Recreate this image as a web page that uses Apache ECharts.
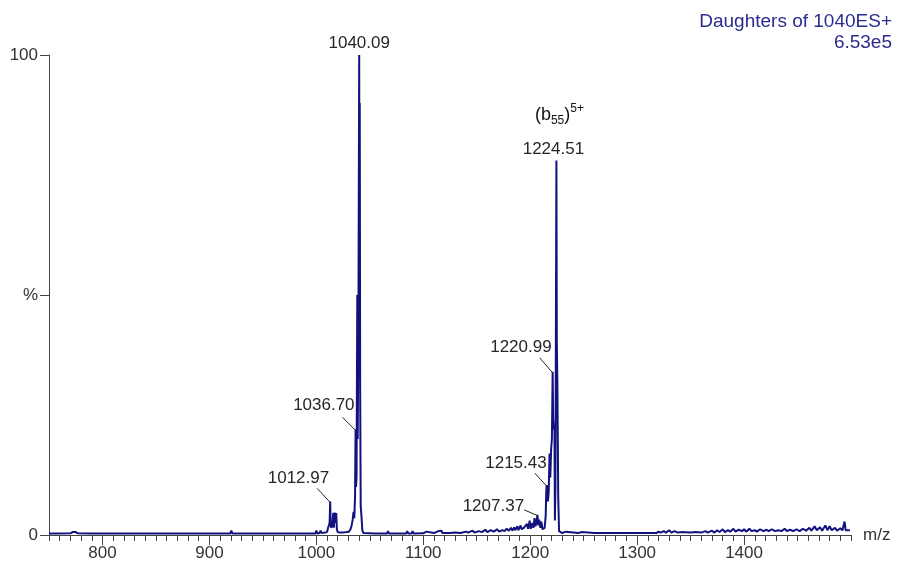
<!DOCTYPE html>
<html>
<head>
<meta charset="utf-8">
<script src="https://cdn.jsdelivr.net/npm/echarts@6/dist/echarts.min.js"></script>
<style>
html,body{margin:0;padding:0;background:#fff;}
#chart{width:898px;height:564px;}
</style>
</head>
<body>
<div id="chart"></div>
<script>
// ---- data (m/z, relative intensity %) ----
const mzValues = [
  750,760,770,772,773.5,775,777,790,805,820,840,860,880,900,919.5,920.5,921.5,940,952.5,953,953.5,957.5,958,958.5,980,
  999,1000,1001,1003,1004,1005,1008,1009,1010,1011,1012.4,1012.97,1013.4,1014,1015,1015.8,1016.4,1017.2,1017.8,1018.6,1019.2,1020,
  1022,1025,1028,1030,1031,1032,1033,1034,1034.8,1035.5,1036.2,1036.7,1037.1,1037.6,1038.3,1038.7,1039.3,1040.09,1040.3,1040.6,1041.0,1041.5,1042.2,1043,1044,
  1045,1055,1066,1067,1068,1080,1084,1085,1086,1089,1090,1091,1100,1103,1104,1110,1114,1115,1117,1118,1125,1130,1135,1140,1142,1146,1148,
  1152,1155,1158,1160,1163,1166,1169,1171,1174,1176,1178,1180,1182,1183.5,1185,1186,1188,1189,1191,1192,1194,1195,1197,1198,1199.5,1200.5,
  1202,1203,1204,1205,1206,1206.8,1207.5,1208.5,1209.5,1210.5,1211.5,1212.5,1213.5,1214.5,1215.0,1215.43,1215.9,1216.6,1217.3,1218.1,1218.8,
  1219.6,1220.3,1220.99,1221.5,1222.2,1222.7,1223.1,1223.6,1224.51,1224.9,1225.5,1226.2,1227,1228,
  1230,1233,1234,1245,1248,1249,1260,1270,1281,1282,1283,1300,1318,1320,1322,1325,1327,1330,1332,1335,1338,1341,1350,1355,1360,1364,1366,
  1370,1372,1375,1377,1380,1382,1385,1387,1390,1392,1395,1398,1400,1402,1405,1407,1410,1412,1415,1418,1421,1423,1426,1429,1432,1435,1438,
  1440,1443,1446,1449,1452,1455,1458,1461,1463,1466,1468,1471,1473,1476,1478,1480,1482,1485,1487,1490,1492,1494,1495,1499
];
const intensityValues = [
  0.3,0.3,0.35,0.6,0.9,0.6,0.35,0.3,0.3,0.3,0.3,0.3,0.3,0.3,0.3,0.9,0.3,0.3,0.3,0.7,0.3,0.3,0.7,0.3,0.3,
  0.3,0.9,0.3,0.4,0.9,0.4,0.5,0.9,0.6,1.5,2.5,7.0,2.0,1.5,2.0,4.6,1.5,4.7,2.5,4.6,1.2,0.6,
  0.5,0.5,0.6,0.6,0.8,1.2,2.0,3.2,4.8,3.5,8,22,10,12,50,20,40,100,60,90,30,6,4,1.0,0.4,
  0.3,0.3,0.3,0.8,0.3,0.3,0.3,0.8,0.3,0.3,0.8,0.3,0.35,0.7,0.35,0.4,0.8,0.4,0.9,0.4,0.4,0.5,0.4,0.7,0.5,0.9,0.5,
  0.8,0.6,1.1,0.6,1.0,0.7,1.2,0.7,1.0,0.8,1.3,0.9,1.5,0.9,1.6,1.0,1.8,1.0,2.0,1.2,1.5,1.1,2.3,1.3,3.0,1.3,
  2.5,1.5,3.5,1.8,3.0,4.2,2.0,3.2,1.5,2.8,1.2,0.8,1.5,4,9,10.4,9.5,7,9,17,12,
  18,20,34,24,22,22.5,3,10,78,40,30,8,0.8,0.4,
  0.4,0.7,0.4,0.4,0.6,0.4,0.4,0.4,0.4,0.7,0.4,0.4,0.4,0.7,0.5,0.8,0.5,1.0,0.5,0.8,0.5,0.6,0.5,0.6,0.5,0.8,0.5,
  0.9,0.5,1.0,0.6,1.2,0.6,1.0,0.7,1.3,0.7,1.1,0.8,1.2,0.7,1.3,0.8,1.0,0.7,1.2,0.8,1.1,0.8,1.2,0.8,1.0,0.8,1.3,
  0.8,1.1,0.8,1.2,0.8,1.3,0.9,1.5,0.9,1.8,1.0,1.6,0.9,2.0,1.0,1.8,1.0,1.5,0.9,1.4,1.0,2.8,1.0,1.0
];

// annotated peaks
const peakLabels = ['1040.09','1036.70','1012.97','1224.51','1220.99','1215.43','1207.37'];
const peakMz     = [1040.09, 1036.70, 1012.97, 1224.51, 1220.99, 1215.43, 1207.37];
const peakPct    = [100, 22, 7.0, 78, 34, 10.4, 4.2];

// axis ticks
const xMajorTicks = [800,900,1000,1100,1200,1300,1400];
const yTickValues = [0,50,100];
const yTickLabels = ['0','%','100'];

const titleLines = ['Daughters of 1040ES+','6.53e5'];
const ionLabel = {base:'(b', sub:'55', close:')', sup:'5+'};

// ---- chart ----
const chart = echarts.init(document.getElementById('chart'), null, {renderer:'canvas'});
const FONT = 'Liberation Sans, Arial, sans-serif';
const seriesData = mzValues.map((m,i)=>[m,intensityValues[i]]);

chart.setOption({
  animation:false,
  backgroundColor:'#ffffff',
  grid:{left:49, right:47, top:55, bottom:29, containLabel:false},
  xAxis:[{
    type:'value', min:750, max:1500, interval:10,
    name:'m/z', nameLocation:'end', nameGap:12,
    nameTextStyle:{fontFamily:FONT, fontSize:17, color:'#333', verticalAlign:'middle'},
    axisLine:{show:true, lineStyle:{color:'#444', width:1}},
    axisTick:{show:true, inside:false, length:6, lineStyle:{color:'#444'}},
    axisLabel:{show:true, margin:10, fontFamily:FONT, fontSize:17, color:'#333',
      formatter:v => xMajorTicks.includes(v) ? String(v) : ''},
    splitLine:{show:false}
  },{
    type:'value', min:750, max:1500, gridIndex:0, position:'bottom',
    axisLine:{show:false},
    axisTick:{show:true, length:10, customValues:xMajorTicks, lineStyle:{color:'#444'}},
    axisLabel:{show:false},
    splitLine:{show:false}
  }],
  yAxis:{
    type:'value', min:0, max:100,
    axisLine:{show:true, lineStyle:{color:'#444', width:1}},
    axisTick:{show:true, length:9, customValues:yTickValues, lineStyle:{color:'#444'}},
    axisLabel:{show:true, margin:11, fontFamily:FONT, fontSize:17, color:'#333',
      customValues:yTickValues,
      formatter:v => yTickLabels[yTickValues.indexOf(v)]},
    splitLine:{show:false}
  },
  series:[{
    type:'line', xAxisIndex:0, yAxisIndex:0, data:seriesData,
    showSymbol:false, symbol:'none',
    lineStyle:{color:'#12127f', width:2},
    z:3
  }]
});

// ---- annotations (anchored to peak positions through the axes) ----
const layout = {
  '1040.09':{tx:0, ty:-12, align:'center'},
  '1036.70':{tx:-1, ty:-24, align:'right', lx:-13, ly:-12},
  '1012.97':{tx:-1, ty:-23, align:'right', lx:-13, ly:-13},
  '1224.51':{tx:-3, ty:-11, align:'center'},
  '1220.99':{tx:-1, ty:-24, align:'right', lx:-13, ly:-14},
  '1215.43':{tx:0, ty:-22, align:'right', lx:-12, ly:-12},
  '1207.37':{tx:-14, ty:-9, align:'right', lx:-14, ly:-5}
};
const graphics = [];
peakLabels.forEach((lab,i)=>{
  const p = chart.convertToPixel({xAxisIndex:0, yAxisIndex:0}, [peakMz[i], peakPct[i]]);
  const L = layout[lab];
  graphics.push({type:'text', x:p[0]+L.tx, y:p[1]+L.ty, z:10,
    style:{text:lab, font:'17px '+FONT, fill:'#262626', textAlign:L.align, textVerticalAlign:'middle'}});
  if (L.lx !== undefined) {
    graphics.push({type:'line', z:10, shape:{x1:p[0]+L.lx, y1:p[1]+L.ly, x2:p[0], y2:p[1]+1},
      style:{stroke:'#262626', lineWidth:1}});
  }
});
// ion label above 1224.51
const pIon = chart.convertToPixel({xAxisIndex:0, yAxisIndex:0}, [peakMz[3], peakPct[3]]);
graphics.push({type:'text', x:pIon[0]+3, y:pIon[1]-46, z:10,
  style:{
    text:'{a|'+ionLabel.base+'}{s|'+ionLabel.sub+'}{a|'+ionLabel.close+'}{u|'+ionLabel.sup+'}',
    textAlign:'center', textVerticalAlign:'middle',
    rich:{
      a:{fontFamily:FONT, fontSize:18, fill:'#111', lineHeight:26, verticalAlign:'middle'},
      s:{fontFamily:FONT, fontSize:12, fill:'#111', lineHeight:26, verticalAlign:'bottom', padding:[0,0,1,0]},
      u:{fontFamily:FONT, fontSize:12, fill:'#111', lineHeight:26, verticalAlign:'top', padding:[1,0,0,0]}
    }
  }});
// header text (top right)
graphics.push({type:'text', x:892, y:22, z:10,
  style:{text:titleLines[0], font:'19px '+FONT, fill:'#2c2c8e', textAlign:'right', textVerticalAlign:'middle'}});
graphics.push({type:'text', x:892, y:43, z:10,
  style:{text:titleLines[1], font:'19px '+FONT, fill:'#2c2c8e', textAlign:'right', textVerticalAlign:'middle'}});

chart.setOption({graphic:graphics});
</script>
</body>
</html>
